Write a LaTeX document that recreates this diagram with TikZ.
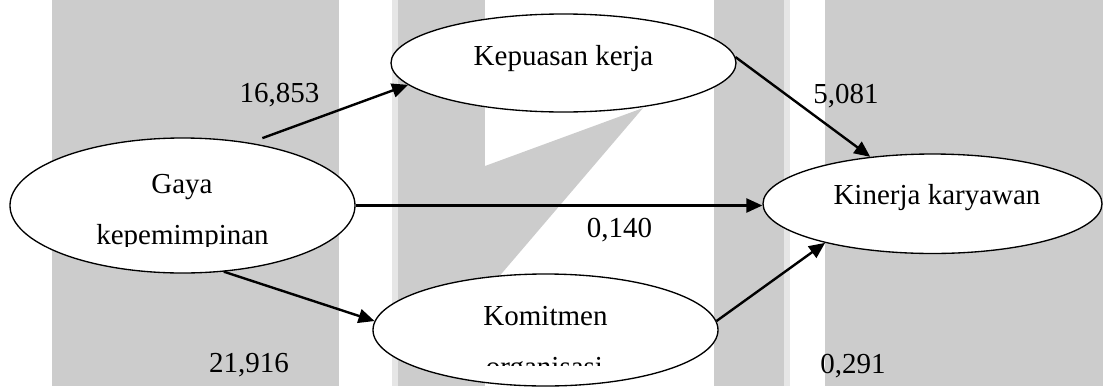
\documentclass[tikz,border=0pt]{standalone}
\usepackage{fontspec}
\setmainfont{Liberation Serif}
\usetikzlibrary{shapes.geometric,arrows.meta}
\definecolor{bandgray}{HTML}{CCCCCC}
\definecolor{bandlight}{HTML}{E6E6E6}
\tikzset{
  oval/.style={ellipse, draw, fill=white, line width=1pt, inner sep=0pt},
  txt/.style={anchor=base, inner sep=0pt, font=\fontsize{21.75}{26}\selectfont},
  arr/.style={line width=1.8pt, -{Triangle[length=12pt,width=10.5pt]}},
}
\begin{document}
\begin{tikzpicture}[x=0.75pt,y=-0.75pt]
\useasboundingbox (0,0) rectangle (1103,386);

% background bands
\fill[bandgray] (52,0) rectangle (339,386);
\fill[bandlight] (392,0) rectangle (398,386);
\fill[bandgray] (398,0) rectangle (485,386);
\fill[bandgray] (485,166) -- (643,108) -- (485,293) -- cycle;
\fill[bandgray] (714,0) rectangle (784,386);
\fill[bandlight] (784,0) rectangle (790,386);
\fill[bandgray] (825,0) rectangle (1103,386);

% variables
\node[oval, minimum width=258.75pt, minimum height=101.25pt] (gaya) at (182.5,205.5) {};
\node[oval, minimum width=258.75pt, minimum height=73.5pt] (kep) at (563.5,63) {};
\node[oval, minimum width=258.75pt, minimum height=84pt] (kom) at (545.5,330) {};
\node[oval, minimum width=254.25pt, minimum height=74.6pt] (kin) at (932.5,203.75) {};

% variable names
\node[txt] (kepT) at (563.5,65) {Kepuasan kerja};
\node[txt] (gayaT) at (182,193) {Gaya};
\begin{scope}
  \clip (0,0) rectangle (1103,246);
  \node[txt] (gayaB) at (182.5,244) {kepemimpinan};
\end{scope}
\node[txt] (komT) at (545.5,325) {Komitmen};
\begin{scope}
  \clip (0,0) rectangle (1103,365);
  \node[txt] (komB) at (544.5,376) {organisasi};
\end{scope}
\node[txt] (kinT) at (937,204) {Kinerja karyawan};

% paths
\draw[arr, shorten <=10pt] (gaya.43) -- (kep.188);
\draw[arr] (gaya.east) -- (gaya.east -| kin.west);
\draw[arr] (gaya.302) -- (kom.177);
\draw[arr] (kep.2) -- (kin.143);
\draw[arr] (kom.3) -- (kin.200);

% coefficients
\node[txt] (c1) at (279.5,102) {16,853};
\node[txt] (c2) at (249,372) {21,916};
\node[txt] (c3) at (619.5,237) {0,140};
\node[txt] (c4) at (846,103) {5,081};
\node[txt] (c5) at (853,373) {0,291};
\end{tikzpicture}
\end{document}
